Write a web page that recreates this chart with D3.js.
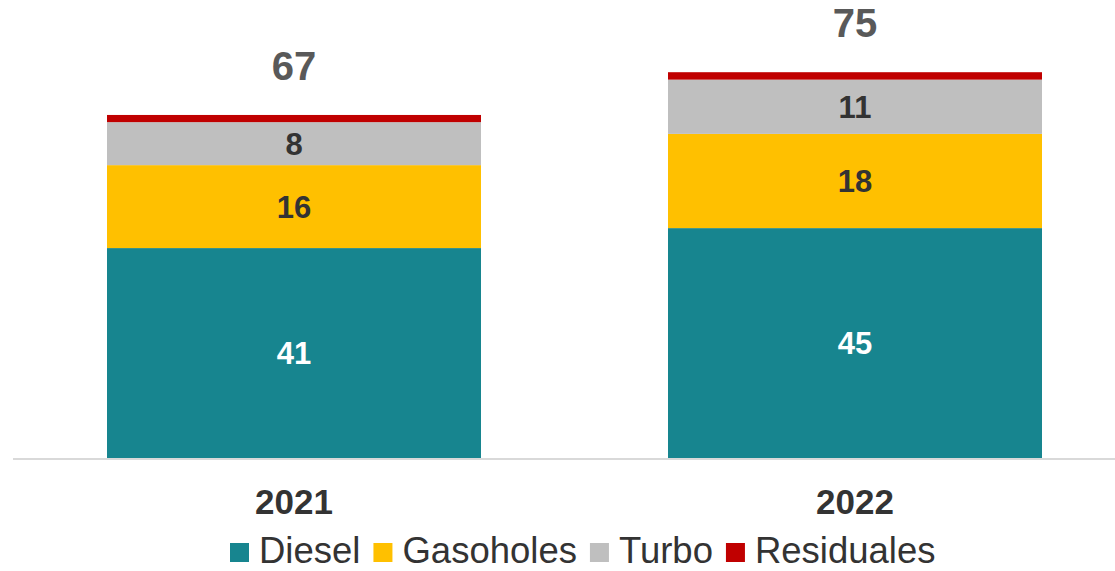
<!DOCTYPE html>
<html>
<head>
<meta charset="utf-8">
<script src="https://cdn.jsdelivr.net/npm/d3@7"></script>
<style>
  body { margin: 0; background: #fff; }
  svg { display: block; font-family: "Liberation Sans", Arial, sans-serif; }
</style>
</head>
<body>
<div id="chart"></div>
<script>
// data
var years = ["2021", "2022"];
var seriesNames = ["Diesel", "Gasoholes", "Turbo", "Residuales"];
var diesel = [41.0, 44.9];
var gasoholes = [16.2, 18.4];
var turbo = [8.4, 10.6];
var residuales = [1.4, 1.45];

var colors = ["#17858F", "#FFC000", "#BFBFBF", "#C00000"];
var labelColors = ["#ffffff", "#333333", "#333333", null];

var width = 1115, height = 571;

var svg = d3.select("#chart")
  .append("svg")
  .attr("width", width)
  .attr("height", height);

// build rows for the stack
var rows = years.map(function (y, i) {
  return { year: y, Diesel: diesel[i], Gasoholes: gasoholes[i], Turbo: turbo[i], Residuales: residuales[i] };
});

var stack = d3.stack().keys(seriesNames);
var layers = stack(rows);

var x = d3.scaleBand()
  .domain(years)
  .range([13.5, 1135.5])
  .paddingInner(1 / 3)
  .paddingOuter(1 / 6);

var y = d3.scaleLinear()
  .domain([0, 80])
  .range([458, 458 - 80 * 5.12]);

var color = d3.scaleOrdinal().domain(seriesNames).range(colors);

// bars
var layer = svg.selectAll(".layer")
  .data(layers)
  .enter().append("g")
  .attr("class", "layer")
  .attr("fill", function (d) { return color(d.key); });

layer.selectAll("rect")
  .data(function (d) { return d; })
  .enter().append("rect")
  .attr("x", function (d) { return x(d.data.year); })
  .attr("y", function (d) { return y(d[1]); })
  .attr("width", x.bandwidth())
  .attr("height", function (d) { return y(d[0]) - y(d[1]); });

// segment labels (not for Residuales)
layers.forEach(function (l, k) {
  if (!labelColors[k]) return;
  svg.selectAll(".lbl" + k)
    .data(l)
    .enter().append("text")
    .attr("x", function (d) { return x(d.data.year) + x.bandwidth() / 2; })
    .attr("y", function (d) { return (y(d[0]) + y(d[1])) / 2; })
    .attr("dy", "0.36em")
    .attr("text-anchor", "middle")
    .style("font-size", "31px")
    .style("font-weight", "bold")
    .style("fill", labelColors[k])
    .text(function (d) { return Math.round(d[1] - d[0]); });
});

// totals
svg.selectAll(".total")
  .data(rows)
  .enter().append("text")
  .attr("class", "total")
  .attr("x", function (d) { return x(d.year) + x.bandwidth() / 2; })
  .attr("y", function (d) { return y(d.Diesel + d.Gasoholes + d.Turbo + d.Residuales) - 35; })
  .attr("text-anchor", "middle")
  .style("font-size", "40px")
  .style("font-weight", "bold")
  .style("fill", "#595959")
  .text(function (d) { return Math.round(d.Diesel + d.Gasoholes + d.Turbo + d.Residuales); });

// x axis
var xAxis = svg.append("g")
  .attr("transform", "translate(0,459)")
  .call(d3.axisBottom(x).tickSize(0).tickPadding(30));
xAxis.select(".domain").attr("stroke", "#D9D9D9").attr("stroke-width", 2).attr("d", "M13,0H1115");
xAxis.selectAll("text")
  .style("font-size", "35px")
  .style("font-weight", "bold")
  .style("font-family", "'Liberation Sans', Arial, sans-serif")
  .style("fill", "#333333");

// legend
var legend = svg.append("g").attr("class", "legend");
var lx = 230;
seriesNames.forEach(function (name, i) {
  var g = legend.append("g").attr("transform", "translate(" + lx + ",543)");
  g.append("rect")
    .attr("width", 19)
    .attr("height", 19)
    .attr("fill", color(name));
  var t = g.append("text")
    .attr("x", 29)
    .attr("y", 20)
    .style("font-size", "36.5px")
    .style("fill", "#333333")
    .text(name);
  lx += 29 + t.node().getComputedTextLength() + 13;
});
</script>
</body>
</html>
